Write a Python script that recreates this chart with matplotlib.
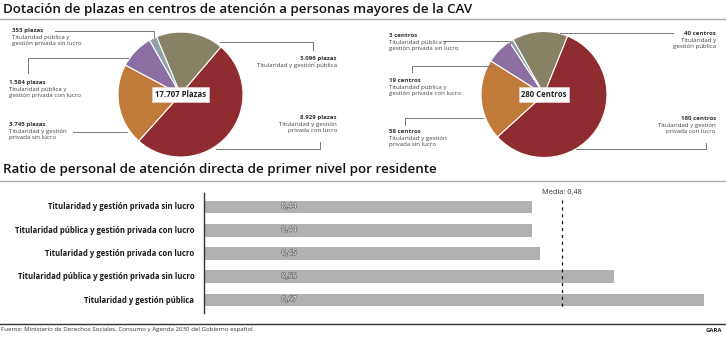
import numpy as np
import matplotlib
matplotlib.use("Agg")
import matplotlib.pyplot as plt
import matplotlib.patheffects as pe

W, H = 726, 338

# pie data (clockwise order starting from "pública")
pie_cats = ["Titularidad y gestión pública",
            "Titularidad y gestión privada con lucro",
            "Titularidad y gestión privada sin lucro",
            "Titularidad pública y gestión privada con lucro",
            "Titularidad pública y gestión privada sin lucro"]
plazas = [3096, 8929, 3745, 1584, 353]
centros = [40, 160, 58, 19, 3]
plazas_lbl = ["3.096 plazas", "8.929 plazas", "3.745 plazas", "1.584 plazas", "353 plazas"]
centros_lbl = ["40 centros", "160 centros", "58 centros", "19 centros", "3 centros"]
pie_colors = ["#878166", "#8f2c32", "#c07b3a", "#8b6fa3", "#8fa0aa"]

# bar data
bar_cats = ["Titularidad y gestión privada sin lucro",
            "Titularidad pública y gestión privada con lucro",
            "Titularidad y gestión privada con lucro",
            "Titularidad pública y gestión privada sin lucro",
            "Titularidad y gestión pública"]
ratios = [0.44, 0.44, 0.45, 0.55, 0.67]
media = 0.48

FONT = "Open Sans"
plt.rcParams["font.family"] = [FONT, "DejaVu Sans"]

fig = plt.figure(figsize=(W / 100, H / 100), dpi=100)
fig.patch.set_facecolor("white")


def fx(x):
    return x / W


def fy(y):
    return 1 - y / H


def txt(x, y, s, **kw):
    fig.text(fx(x), fy(y), s, **kw)


def line(xs, ys, color="#777777", lw=0.7, **kw):
    fig.add_artist(plt.Line2D([fx(v) for v in xs], [fy(v) for v in ys],
                              color=color, lw=lw, **kw))


def pie_at(cx, cy, r, vals, start, total_lbl):
    ax = fig.add_axes([fx(cx - r), fy(cy + r), 2 * r / W, 2 * r / H])
    ax.pie(vals, colors=pie_colors, counterclock=False, startangle=start,
           wedgeprops=dict(edgecolor="white", linewidth=0.8))
    ax.set_xlim(-1.0, 1.0)
    ax.set_ylim(-1.0, 1.0)
    ax.set_aspect("auto")
    ax.axis("off")
    ax.text(0, 0, total_lbl, ha="center", va="center", fontsize=5.6,
            fontweight="bold", color="#222222",
            bbox=dict(boxstyle="square,pad=0.35", fc="white", ec="#dddddd", lw=0.4))


def note(x, y, head, body, ha="left"):
    txt(x, y, head, ha=ha, va="top", fontsize=4.45, fontweight="bold", color="#333333")
    txt(x, y + 7, body, ha=ha, va="top", fontsize=4.45, color="#444444",
        linespacing=1.2)


# titles
txt(3, 10, "Dotación de plazas en centros de atención a personas mayores de la CAV",
    ha="left", va="center", fontsize=9.65, fontweight="semibold", color="#111111")
line([0, W], [19, 19], color="#aaaaaa", lw=1.0)

# left pie
pie_at(180.5, 94.5, 62.5, plazas, 49.6 + 360 * plazas[0] / sum(plazas), "17.707 Plazas")
note(12, 28, plazas_lbl[4], "Titularidad pública y\ngestión privada sin lucro")
line([55, 154, 154], [31, 31, 37])
note(9, 80, plazas_lbl[3], "Titularidad pública y\ngestión privada con lucro")
line([28, 28, 128], [73, 58, 58])
note(9, 122, plazas_lbl[2], "Titularidad y gestión\nprivada sin lucro")
line([73, 127], [132, 132])
note(337, 56, plazas_lbl[0], "Titularidad y gestión pública", ha="right")
line([220, 313, 313], [42, 42, 50])
note(337, 115, plazas_lbl[1], "Titularidad y gestión\nprivada con lucro", ha="right")
line([216, 320, 320], [149, 149, 142])

# right pie
pie_at(544, 94.5, 63, centros, 68 + 360 * centros[0] / sum(centros), "280 Centros")
note(389, 33, centros_lbl[4], "Titularidad pública y\ngestión privada sin lucro")
line([443, 510, 510], [41, 41, 44])
note(389, 78, centros_lbl[3], "Titularidad pública y\ngestión privada con lucro")
line([412, 412, 493], [72, 66, 66])
note(389, 129, centros_lbl[2], "Titularidad y gestión\nprivada sin lucro")
line([405, 405, 483], [125, 118, 118])
note(716, 31, centros_lbl[0], "Titularidad y\ngestión pública", ha="right")
line([560, 673], [33, 33])
note(716, 116, centros_lbl[1], "Titularidad y gestión\nprivada con lucro", ha="right")
line([576, 706, 706], [149, 149, 143])

# bar section title
txt(3, 170, "Ratio de personal de atención directa de primer nivel por residente",
    ha="left", va="center", fontsize=9.65, fontweight="semibold", color="#111111")
line([0, W], [181, 181], color="#aaaaaa", lw=1.0)

# bar chart: x=0 at px 204, 0.67 at px 704; rows 23.3 px apart from y=207
x0_px, x1_px = 204, 704
top_px, bot_px = 195.3, 311.7
ax = fig.add_axes([fx(x0_px), fy(bot_px), (x1_px - x0_px) / W, (bot_px - top_px) / H])
ypos = np.arange(len(ratios))
ax.barh(ypos, ratios, height=0.545, color="#b1b1b1")
ax.set_xlim(0, 0.67)
ax.set_ylim(len(ratios) - 0.5, -0.5)
ax.axis("off")
ax.plot([0, 0], [-0.6, 4.56], color="#333333", lw=1.0, clip_on=False)
for i, v in enumerate(ratios):
    ax.text(0.114, i, f"{v:.2f}".replace(".", ","), ha="center", va="center",
            fontsize=5.6, color="white",
            path_effects=[pe.withStroke(linewidth=0.9, foreground="#666666")])
    ax.text(-0.013, i, bar_cats[i], ha="right", va="center", fontsize=5.6,
            fontweight="bold", color="#1a1a1a")
ax.plot([media, media], [-0.3, 4.3], color="#111111", lw=0.9, ls=(0, (2.5, 3)),
        clip_on=False)
ax.text(media, -0.6, "Media: " + f"{media:.2f}".replace(".", ","), ha="center",
        va="center", fontsize=5.3, color="#333333")

# footer
line([0, W], [324, 324], color="#333333", lw=1.0)
txt(1, 330, "Fuente: Ministerio de Derechos Sociales, Consumo y Agenda 2030 del Gobierno español.",
    ha="left", va="center", fontsize=4.45, color="#333333")
txt(722, 331, "GARA", ha="right", va="center", fontsize=4.3, fontweight="bold",
    color="#222222")

fig.savefig("out.png", dpi=100, facecolor="white")
